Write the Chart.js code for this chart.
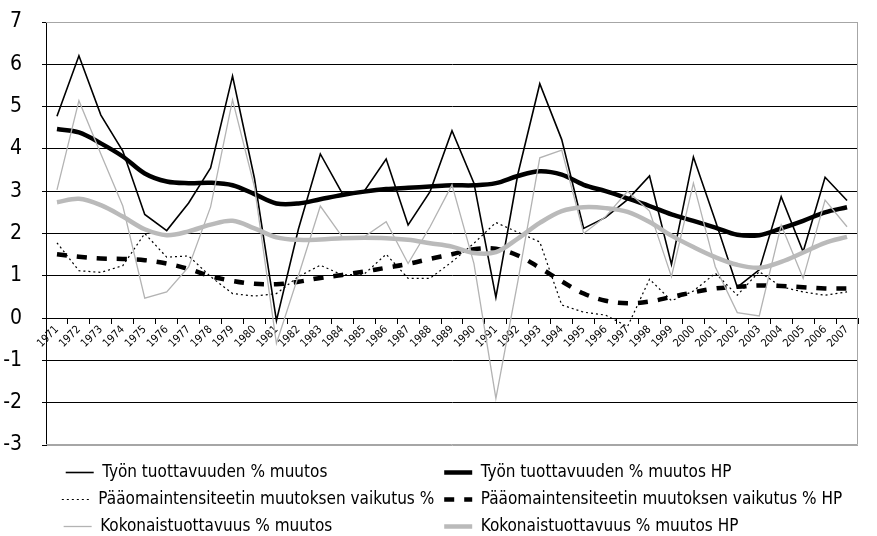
<!DOCTYPE html>
<html>
<head>
<meta charset="utf-8">
<script src="https://cdn.jsdelivr.net/npm/chart.js@4/dist/chart.umd.min.js"></script>
<style>
  html, body { margin: 0; padding: 0; background: #fff; }
  #wrap { width: 877px; height: 536px; }
</style>
</head>
<body>
<div id="wrap"><canvas id="chartTuottavuus"></canvas></div>
<script>
const vuodet = [];
for (let v = 1971; v <= 2007; v++) vuodet.push(String(v));

const tyonMuutos = [4.77, 6.2, 4.8, 3.95, 2.45, 2.07, 2.72, 3.55, 5.72, 3.3,
  -0.06, 2.1, 3.88, 2.95, 3.0, 3.76, 2.2, 2.99, 4.43, 3.19,
  0.49, 3.4, 5.54, 4.22, 2.12, 2.38, 2.8, 3.36, 1.27, 3.81,
  2.3, 0.73, 1.14, 2.87, 1.57, 3.33, 2.78];
const tyonHP = [4.47, 4.39, 4.13, 3.82, 3.42, 3.23, 3.19, 3.2, 3.14, 2.93,
  2.71, 2.71, 2.81, 2.91, 2.99, 3.05, 3.08, 3.11, 3.14, 3.14,
  3.19, 3.36, 3.47, 3.39, 3.15, 3.0, 2.83, 2.65, 2.45, 2.3,
  2.14, 1.97, 1.96, 2.12, 2.3, 2.5, 2.62];
const paaomaMuutos = [1.78, 1.12, 1.08, 1.24, 2.0, 1.44, 1.47, 0.98, 0.58, 0.52,
  0.58, 0.98, 1.25, 1.02, 1.04, 1.51, 0.94, 0.94, 1.33, 1.77,
  2.26, 2.03, 1.8, 0.31, 0.14, 0.07, -0.2, 0.92, 0.41, 0.64,
  1.06, 0.54, 1.1, 0.74, 0.62, 0.54, 0.62];
const paaomaHP = [1.51, 1.45, 1.41, 1.4, 1.37, 1.29, 1.16, 0.99, 0.88, 0.81,
  0.8, 0.86, 0.95, 1.02, 1.1, 1.19, 1.28, 1.4, 1.51, 1.63,
  1.64, 1.48, 1.19, 0.87, 0.58, 0.41, 0.35, 0.39, 0.5, 0.61,
  0.7, 0.74, 0.77, 0.76, 0.73, 0.7, 0.7];
const kokoMuutos = [3.03, 5.14, 3.88, 2.65, 0.47, 0.62, 1.21, 2.63, 5.16, 3.1,
  -0.6, 1.0, 2.65, 1.92, 1.92, 2.28, 1.29, 2.16, 3.15, 1.29,
  -1.9, 0.87, 3.79, 3.97, 2.0, 2.4, 3.0, 2.53, 0.98, 3.19,
  1.21, 0.13, 0.05, 2.2, 0.94, 2.79, 2.16];
const kokoHP = [2.74, 2.82, 2.67, 2.4, 2.1, 1.96, 2.05, 2.21, 2.3, 2.12,
  1.91, 1.85, 1.86, 1.89, 1.9, 1.89, 1.85, 1.77, 1.69, 1.54,
  1.56, 1.88, 2.25, 2.53, 2.62, 2.6, 2.51, 2.27, 1.95, 1.68,
  1.44, 1.26, 1.19, 1.33, 1.55, 1.78, 1.92];

const fontti = '"Liberation Sans Narrow", "DejaVu Sans Condensed", "Open Sans", sans-serif';
const selitteenKoko = 17;
Chart.defaults.color = "#000";
Chart.defaults.font.family = fontti;

// harmaa kehys piirtoalueen ympärille (ylä, oikea, ala)
const kehys = {
  id: "kehys",
  beforeDatasetsDraw(chart) {
    const { ctx, chartArea: a } = chart;
    ctx.save();
    ctx.strokeStyle = "#a6a6a6";
    ctx.lineWidth = 1;
    ctx.beginPath();
    ctx.moveTo(a.left, a.top + 0.5);
    ctx.lineTo(a.right - 0.5, a.top + 0.5);
    ctx.lineTo(a.right - 0.5, a.bottom - 0.5);
    ctx.lineTo(a.left, a.bottom - 0.5);
    ctx.stroke();
    ctx.restore();
  }
};

// selitteen tekstit samanlevyisiksi, jotta sarakkeet asettuvat kohdakkain
function selitteet(chart) {
  const items = Chart.defaults.plugins.legend.labels.generateLabels(chart);
  const ctx = chart.ctx;
  ctx.save();
  ctx.font = selitteenKoko + "px " + fontti;
  const leveys = [0, 0];
  items.forEach((l) => {
    const s = l.datasetIndex % 2;
    leveys[s] = Math.max(leveys[s], ctx.measureText(l.text).width);
  });
  const tulos = items.map((l) => {
    let t = l.text;
    const s = l.datasetIndex % 2;
    while (ctx.measureText(t + " ").width <= leveys[s]) t += " ";
    return { ...l, text: t, lineDash: chart.data.datasets[l.datasetIndex].borderDash || [] };
  });
  ctx.restore();
  return tulos;
}

const ohut = { pointRadius: 0, fill: false, tension: 0 };
const paksu = { pointRadius: 0, fill: false, tension: 0.35, borderWidth: 4.5 };

new Chart(document.getElementById("chartTuottavuus"), {
  type: "line",
  data: {
    labels: vuodet,
    datasets: [
      { ...ohut, label: "Työn tuottavuuden % muutos", data: tyonMuutos,
        borderColor: "#000", backgroundColor: "#000", borderWidth: 1.6, order: 6 },
      { ...paksu, label: "Työn tuottavuuden % muutos HP", data: tyonHP,
        borderColor: "#000", backgroundColor: "#000", order: 5 },
      { ...ohut, label: "Pääomaintensiteetin muutoksen vaikutus %", data: paaomaMuutos,
        borderColor: "#000", backgroundColor: "#000", borderWidth: 1.2, borderDash: [2, 3], order: 4 },
      { ...paksu, label: "Pääomaintensiteetin muutoksen vaikutus % HP", data: paaomaHP,
        borderColor: "#000", backgroundColor: "#000", borderDash: [10, 10], order: 3 },
      { ...ohut, label: "Kokonaistuottavuus % muutos", data: kokoMuutos,
        borderColor: "#b3b3b3", backgroundColor: "#b3b3b3", borderWidth: 1.3, order: 2 },
      { ...paksu, label: "Kokonaistuottavuus % muutos HP", data: kokoHP,
        borderColor: "#bababa", backgroundColor: "#bababa", order: 1 }
    ]
  },
  options: {
    responsive: true,
    maintainAspectRatio: false,
    animation: false,
    layout: { padding: { left: 0, right: 19, top: 22, bottom: -9 } },
    scales: {
      x: {
        type: "category",
        position: { y: 0 },
        offset: true,
        grid: { offset: true, drawOnChartArea: false, drawTicks: true, tickLength: 5, tickColor: "#000" },
        border: { display: true, color: "#000", width: 1 },
        ticks: { autoSkip: false, minRotation: 45, maxRotation: 45, padding: 0, font: { size: 11 } }
      },
      // tyhjä rako piirtoalueen ja selitteen väliin
      xPohja: {
        type: "category",
        position: "bottom",
        afterFit: (s) => { s.height = 9; },
        grid: { display: false },
        border: { display: false },
        ticks: { display: false }
      },
      y: {
        min: -3,
        max: 7,
        afterFit: (s) => { s.width = 46; s.paddingTop = 0; s.paddingBottom = 0; },
        grid: {
          color: (c) => (c.tick.value === 7 || c.tick.value === -3 ? "#a6a6a6" : "#000"),
          tickColor: "#000",
          tickLength: 4
        },
        border: { display: true, color: "#000", width: 1 },
        ticks: { stepSize: 1, padding: 20, font: { size: 21 } }
      }
    },
    plugins: {
      legend: {
        position: "bottom",
        fullSize: false,
        labels: {
          usePointStyle: true,
          pointStyle: "line",
          pointStyleWidth: 28,
          boxWidth: 28,
          padding: 10,
          font: { size: selitteenKoko },
          generateLabels: selitteet,
          sort: (a, b) => a.datasetIndex - b.datasetIndex
        }
      },
      tooltip: { enabled: false }
    }
  },
  plugins: [kehys]
});
</script>
</body>
</html>
